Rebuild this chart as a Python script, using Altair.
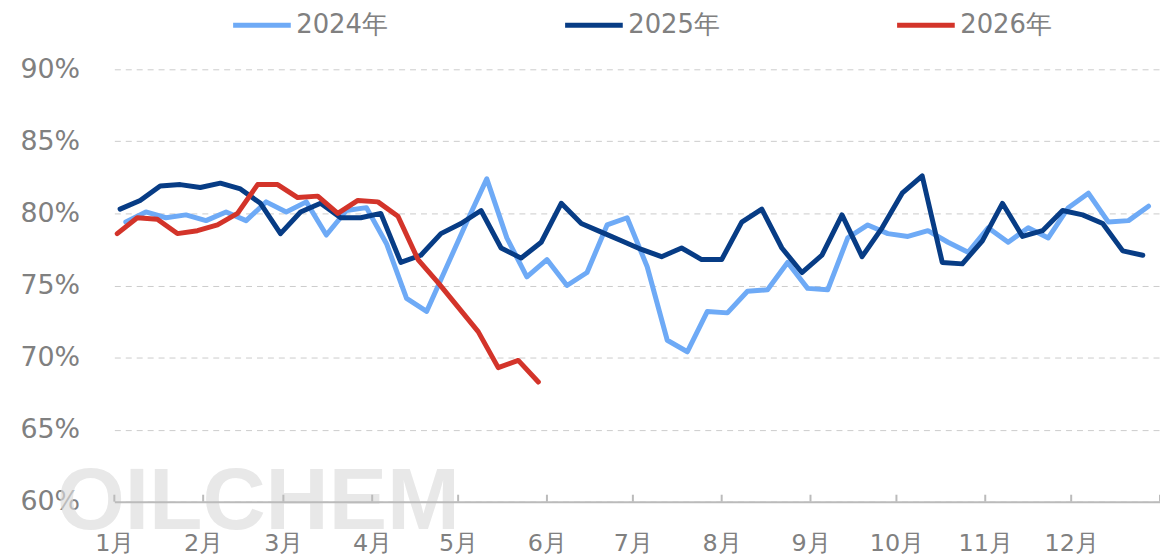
import altair as alt
import pandas as pd

# ---- data (weekly) ----
series_names = ["2024年", "2025年", "2026年"]
series_colors = ["#6EAAF6", "#073C85", "#D3342A"]
first_dates = ["2024-01-05", "2025-01-03", "2026-01-02"]

values_2024 = [79.4, 80.1, 79.7, 79.9, 79.5, 80.1, 79.5, 80.8, 80.1, 80.8,
               78.5, 80.2, 80.4, 77.9, 74.1, 73.2, 76.3, 79.4, 82.4, 78.3,
               75.6, 76.8, 75.0, 75.9, 79.2, 79.7, 76.3, 71.2, 70.4, 73.2,
               73.1, 74.6, 74.7, 76.6, 74.8, 74.7, 78.3, 79.2, 78.6, 78.4,
               78.8, 78.0, 77.3, 79.0, 78.0, 79.0, 78.3, 80.4, 81.4, 79.4,
               79.5, 80.5]
values_2025 = [80.3, 80.9, 81.9, 82.0, 81.8, 82.1, 81.7, 80.7, 78.6, 80.1,
               80.7, 79.7, 79.7, 80.0, 76.6, 77.1, 78.6, 79.3, 80.2, 77.6,
               76.9, 78.0, 80.7, 79.3, 78.7, 78.1, 77.5, 77.0, 77.6, 76.8,
               76.8, 79.4, 80.3, 77.6, 75.9, 77.1, 79.9, 77.0, 79.0, 81.4,
               82.6, 76.6, 76.5, 78.1, 80.7, 78.4, 78.8, 80.2, 79.9, 79.3,
               77.4, 77.1]
values_2026 = [78.6, 79.7, 79.6, 78.6, 78.8, 79.2, 80.0, 82.0, 82.0, 81.1,
               81.2, 80.0, 80.9, 80.8, 79.8, 76.8, 75.2, 73.5, 71.8, 69.3,
               69.8, 68.3]

month_start_days = [0, 31, 59, 90, 120, 151, 181, 212, 243, 273, 304, 334]
month_labels = ["1月", "2月", "3月", "4月", "5月", "6月",
                "7月", "8月", "9月", "10月", "11月", "12月"]
y_ticks = [60, 65, 70, 75, 80, 85, 90]

# ---- build table ----
rows = []
for name, start, vals in zip(series_names, first_dates,
                             [values_2024, values_2025, values_2026]):
    dates = pd.date_range(start, periods=len(vals), freq="7D")
    jan1 = pd.Timestamp(f"{start[:4]}-01-01")
    for d, v in zip(dates, vals):
        rows.append({"series": name, "day": int((d - jan1).days), "value": v})
df = pd.DataFrame(rows)

days_js = "[" + ",".join(str(d) for d in month_start_days) + "]"
labels_js = "[" + ",".join(f"'{l}'" for l in month_labels) + "]"
x_label_expr = (f"indexof({days_js}, datum.value) < 0 ? '' : "
                f"{labels_js}[indexof({days_js}, datum.value)]")

x_scale = alt.Scale(domain=[0, 365], nice=False, zero=False)
y_scale = alt.Scale(domain=[60, 90], nice=False, zero=False)

x_axis = alt.Axis(values=month_start_days + [365], labelExpr=x_label_expr,
                  grid=False, ticks=False, domainColor="#BBBBBB",
                  domainWidth=2, labelFontSize=24, labelColor="#808080",
                  labelFont="DejaVu Sans", labelPadding=30,
                  labelFlush=False, labelOverlap=False, zindex=1)

lines = alt.Chart(df).mark_line(
    strokeWidth=5, strokeCap="round", strokeJoin="round"
).encode(
    x=alt.X("day:Q", scale=x_scale, title=None, axis=x_axis),
    y=alt.Y("value:Q", scale=y_scale, title=None,
            axis=alt.Axis(values=y_ticks, labelExpr="datum.value + '%'",
                          grid=True, gridDash=[6, 5], gridColor="#CCCCCC",
                          gridWidth=1, domain=False, ticks=False,
                          labelFontSize=27, labelColor="#808080",
                          labelFont="DejaVu Sans", labelPadding=35)),
    color=alt.Color("series:N",
                    scale=alt.Scale(domain=series_names, range=series_colors),
                    legend=alt.Legend(orient="none", legendX=117, legendY=-76,
                                      direction="horizontal", title=None,
                                      symbolType="stroke", symbolSize=3364,
                                      symbolStrokeWidth=5, labelFontSize=26,
                                      labelColor="#808080", labelFont="DejaVu Sans",
                                      columnPadding=167, labelOffset=3, padding=0)),
    order=alt.Order("day:Q"),
)

ticks = alt.Chart(pd.DataFrame({"day": month_start_days + [365]})).mark_rule(
    color="#BBBBBB", strokeWidth=2
).encode(
    x=alt.X("day:Q", scale=x_scale, title=None, axis=x_axis),
    y=alt.value(428), y2=alt.value(435),
)

watermark = alt.Chart(pd.DataFrame({"t": ["OILCHEM"]})).mark_text(
    align="left", baseline="alphabetic", fontSize=88, fontWeight="bold",
    font="Liberation Sans", color="#DCDCDC", opacity=0.65
).encode(text="t:N", x=alt.value(-58), y=alt.value(462))

chart = alt.layer(watermark, ticks, lines).properties(
    width=1052, height=435,
    background="white",
    autosize=alt.AutoSizeParams(type="none"),
    padding={"left": 107, "top": 60, "right": 0, "bottom": 54},
).configure_view(stroke=None)

chart.save("out.html", embed_options={"renderer": "svg", "actions": False})
